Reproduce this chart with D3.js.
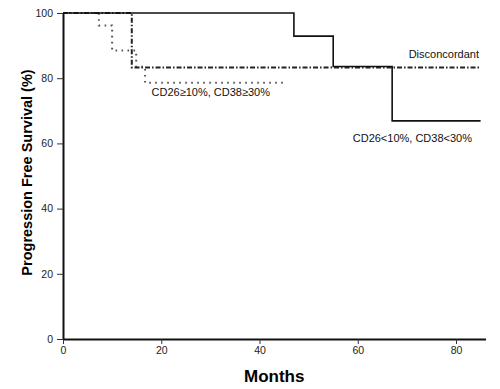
<!DOCTYPE html>
<html>
<head>
<meta charset="utf-8">
<script src="https://cdn.jsdelivr.net/npm/d3@7"></script>
<style>
  body { margin: 0; background: #fff; }
  svg { display: block; font-family: "Liberation Sans", Arial, sans-serif; }
  .tick text { font-size: 10.5px; fill: #222; }
</style>
</head>
<body>
<div id="graph"></div>
<script>
const w = 500, h = 389;
const padding = { top: 13, bottom: 50, left: 63, right: 15 };

// Kaplan-Meier steps
const lowMonths = [0, 47, 55, 67, 85];
const lowSurvival = [100, 92.9, 83.6, 66.9, 66.9];
const discMonths = [0, 14, 85];
const discSurvival = [100, 83.3, 83.3];
const highMonths = [0, 7.3, 10, 14.9, 16.7, 45];
const highSurvival = [100, 96.2, 88.5, 83.5, 78.6, 78.6];
const xTicks = [0, 20, 40, 60, 80];
const yTicks = [0, 20, 40, 60, 80, 100];

const svg = d3.select("#graph").append("svg").attr("width", w).attr("height", h);

const xScale = d3.scaleLinear().domain([0, 86]).range([padding.left, w - padding.right + 0.5]);
const yScale = d3.scaleLinear().domain([0, 100]).range([h - padding.bottom, padding.top]);

const xAxis = svg
  .append("g")
  .attr("transform", `translate(0, ${h - padding.bottom})`)
  .call(d3.axisBottom(xScale).tickValues(xTicks).tickSize(5).tickSizeOuter(0).tickPadding(3));
const yAxis = svg
  .append("g")
  .attr("transform", `translate(${padding.left}, 0)`)
  .call(d3.axisLeft(yScale).tickValues(yTicks).tickSize(6).tickSizeOuter(0).tickPadding(4));
svg.selectAll(".domain").attr("stroke", "#111").attr("stroke-width", 2);
svg.selectAll(".tick line").attr("stroke", "#333");

const line = d3
  .line()
  .x((d) => xScale(d[0]))
  .y((d) => yScale(d[1]))
  .curve(d3.curveStepAfter);

const series = [
  { months: highMonths, surv: highSurvival, color: "#555", width: 2, dash: "1.6,4.4" },
  { months: discMonths, surv: discSurvival, color: "#222", width: 2, dash: "5,2,1.5,2" },
  { months: lowMonths, surv: lowSurvival, color: "#111", width: 1.6, dash: null },
];

series.forEach((s) => {
  svg
    .append("path")
    .datum(d3.zip(s.months, s.surv))
    .attr("d", line)
    .attr("fill", "none")
    .attr("stroke", s.color)
    .attr("stroke-width", s.width)
    .attr("stroke-dasharray", s.dash);
});

const labels = [
  { text: "Disconcordant", x: 479, y: 58 },
  { text: "CD26<10%, CD38<30%", x: 472, y: 142 },
  { text: "CD26≥10%, CD38≥30%", x: 270, y: 96 },
];
svg
  .selectAll(".label")
  .data(labels)
  .enter()
  .append("text")
  .attr("class", "label")
  .attr("x", (d) => d.x)
  .attr("y", (d) => d.y)
  .attr("text-anchor", "end")
  .attr("font-size", 11)
  .attr("fill", "#111")
  .text((d) => d.text);

svg
  .append("text")
  .attr("x", xScale(43))
  .attr("y", 382)
  .attr("text-anchor", "middle")
  .attr("font-size", 17)
  .attr("font-weight", "bold")
  .text("Months");

svg
  .append("text")
  .attr("transform", `translate(32, 172.5) rotate(-90)`)
  .attr("text-anchor", "middle")
  .attr("font-size", 14.5)
  .attr("font-weight", "bold")
  .text("Progression Free Survival (%)");
</script>
</body>
</html>
